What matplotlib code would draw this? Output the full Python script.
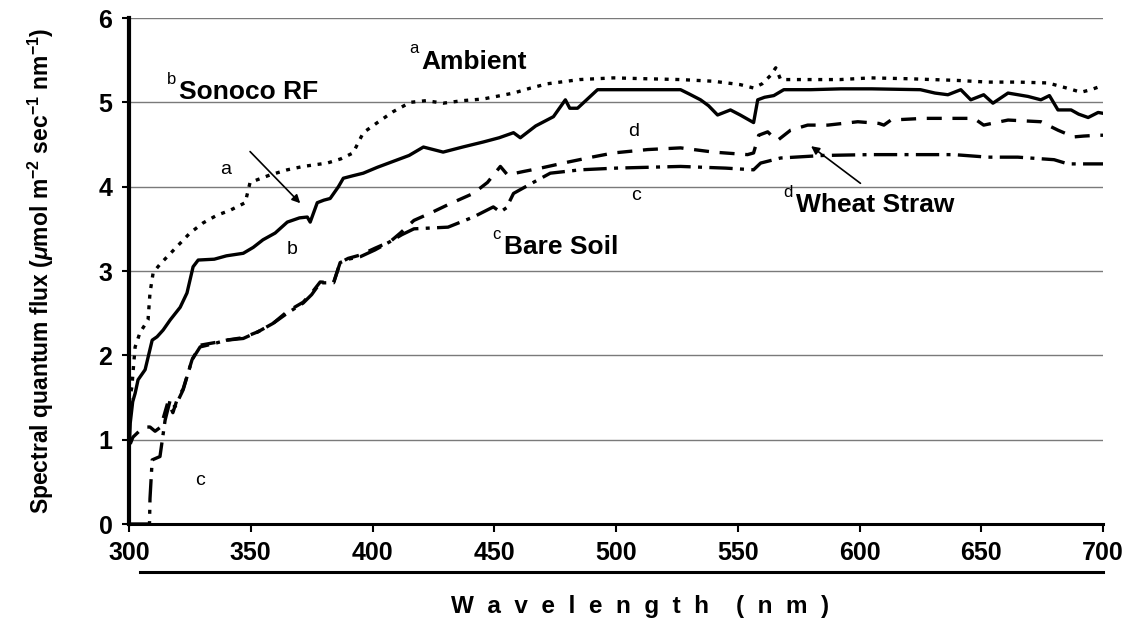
import matplotlib
matplotlib.use('Agg')
import matplotlib.pyplot as plt
from matplotlib import font_manager
from matplotlib.lines import Line2D

names = {f.name for f in font_manager.fontManager.ttflist}
narrow = 'Liberation Sans Narrow' if 'Liberation Sans Narrow' in names else 'Liberation Sans'

plt.rcParams['font.family'] = ['Liberation Sans', 'DejaVu Sans']
plt.rcParams['mathtext.fontset'] = 'custom'
plt.rcParams['mathtext.rm'] = 'Liberation Sans:bold'
plt.rcParams['mathtext.it'] = 'Liberation Sans:bold:italic'
plt.rcParams['mathtext.default'] = 'rm'

# a - Ambient (dotted)
wl_a = [300, 301.2, 301.6, 302.5, 304.5, 307.8, 308.6, 309.9, 312.7, 319.7, 325, 330.4, 336, 341.5,
        347.7, 349.7, 358, 365, 371.5, 381.4, 387, 392, 396.2, 402, 408.5, 415.5, 422, 429, 437,
        445.5, 457.9, 465, 471.8, 485, 499, 512, 526.5, 540, 551, 556.5, 560, 563.5, 565.6, 567.6,
        580, 592, 604.6, 620, 640, 652.7, 665, 677.4, 685, 691, 695, 698, 700]
flux_a = [1.45, 1.63, 1.79, 2.1, 2.27, 2.42, 2.74, 2.98, 3.08, 3.29, 3.45, 3.57, 3.66, 3.72,
          3.81, 4.05, 4.14, 4.2, 4.24, 4.28, 4.33, 4.40, 4.64, 4.76, 4.89, 5.0, 5.02, 4.99, 5.02,
          5.04, 5.11, 5.17, 5.22, 5.27, 5.29, 5.28, 5.27, 5.25, 5.21, 5.17, 5.22, 5.32, 5.41, 5.27,
          5.27, 5.27, 5.29, 5.28, 5.26, 5.24, 5.24, 5.23, 5.17, 5.12, 5.15, 5.18, 5.2]

# b - Sonoco RF (solid)
wl_b = [300, 300.5, 301.5, 302.5, 303.7, 306.6, 309.5, 311.5, 314, 316.9, 321, 323.8, 326.3, 328.4,
        335, 340, 346.9, 351, 355, 360, 365, 370, 373.2, 374.4, 377.3, 380, 382.6, 386, 388, 392,
        396.2, 402, 408.5, 415, 420.9, 429, 437, 445.5, 452, 457.9, 460.7, 467, 474.3, 479.2, 481,
        484.2, 492.4, 510, 526.5, 530, 534.7, 538, 541.7, 547, 551, 556.5, 558.2, 561, 564.8, 568.9,
        580, 592.3, 605, 625, 631, 636.3, 641.6, 645.7, 651, 654.8, 661, 669.2, 674.5, 678, 681.5,
        686.9, 690, 693.9, 698, 700]
flux_b = [0.84, 1.2, 1.45, 1.55, 1.71, 1.83, 2.18, 2.22, 2.3, 2.42, 2.57, 2.74, 3.05, 3.13,
          3.14, 3.18, 3.21, 3.28, 3.37, 3.45, 3.58, 3.63, 3.64, 3.58, 3.81, 3.84, 3.86, 4.0, 4.1, 4.13,
          4.16, 4.23, 4.30, 4.37, 4.47, 4.41, 4.47, 4.53, 4.58, 4.64, 4.58, 4.72, 4.83, 5.03, 4.93,
          4.93, 5.15, 5.15, 5.15, 5.1, 5.03, 4.96, 4.85, 4.91, 4.85, 4.76, 5.03, 5.06, 5.08, 5.15,
          5.15, 5.16, 5.16, 5.15, 5.11, 5.09, 5.15, 5.03, 5.09, 4.99, 5.11, 5.07, 5.03, 5.08, 4.91,
          4.91, 4.86, 4.82, 4.88, 4.87]

# c - Bare Soil (dash-dot)
wl_c = [300, 308.4, 308.6, 309.5, 312.7, 314.8, 316.9, 318.9, 322.2, 325.9, 329.2, 335, 340, 346.9,
        353, 359.2, 365, 371.5, 375, 378.5, 384, 386.7, 390, 395, 401, 407.3, 412, 417, 424, 431,
        441.4, 449.6, 452.5, 455, 457.9, 466, 473, 485.4, 500, 526.5, 545, 556.5, 559.4, 567.6, 585,
        604, 620, 638.8, 652.7, 665, 679.9, 685.6, 696.3, 700]
flux_c = [0, 0, 0.3, 0.76, 0.8, 1.23, 1.47, 1.39, 1.59, 1.95, 2.1, 2.14, 2.18, 2.2,
          2.28, 2.38, 2.5, 2.62, 2.72, 2.86, 2.86, 3.1, 3.14, 3.17, 3.25, 3.35, 3.43, 3.50, 3.51, 3.52,
          3.64, 3.76, 3.70, 3.75, 3.92, 4.05, 4.16, 4.2, 4.22, 4.24, 4.22, 4.2, 4.28, 4.34, 4.37,
          4.38, 4.38, 4.38, 4.35, 4.35, 4.32, 4.27, 4.27, 4.27]

# d - Wheat Straw (dashed)
wl_d = [300.5, 301.6, 304.5, 306, 308.6, 310.7, 313, 316, 318, 320, 322.2, 325.9, 329.2, 335, 340,
        346.9, 353, 359.2, 365, 371.5, 375, 378.5, 384, 386.7, 390, 395, 401, 407.3, 411.4, 417, 424,
        432, 441.4, 447.2, 452.5, 455.4, 462, 469, 480, 490, 499, 513, 526.5, 540, 554, 556.5, 558.6,
        562.3, 564.8, 566.4, 571.7, 578.7, 587, 599.3, 608, 610, 612.9, 626.4, 647, 651, 661, 674.5,
        681.5, 688, 692, 698, 700]
flux_d = [0.95, 1.03, 1.11, 1.15, 1.15, 1.10, 1.15, 1.45, 1.32, 1.5, 1.6, 1.95, 2.12, 2.15, 2.18,
          2.21, 2.28, 2.38, 2.52, 2.63, 2.74, 2.87, 2.86, 3.1, 3.15, 3.19, 3.27, 3.35, 3.45, 3.60, 3.69,
          3.8, 3.92, 4.05, 4.24, 4.14, 4.18, 4.22, 4.29, 4.35, 4.4, 4.44, 4.46, 4.41, 4.38, 4.4, 4.61,
          4.65, 4.58, 4.55, 4.67, 4.73, 4.73, 4.77, 4.75, 4.73, 4.79, 4.81, 4.81, 4.73, 4.79, 4.77,
          4.67, 4.59, 4.6, 4.61, 4.61]

x_ticks = [300, 350, 400, 450, 500, 550, 600, 650, 700]
y_ticks = [0, 1, 2, 3, 4, 5, 6]

fig = plt.figure(figsize=(11.35, 6.23), dpi=100)
ax = fig.add_axes([0.1137, 0.1589, 0.8581, 0.8122])

lw = 2.4
ax.plot(wl_a, flux_a, color='black', lw=lw, linestyle=(0, (1.2, 2.0)), solid_capstyle='butt')
ax.plot(wl_b, flux_b, color='black', lw=lw, solid_joinstyle='round')
ax.plot(wl_c, flux_c, color='black', lw=lw, linestyle=(0, (7, 2.2, 1.2, 2.2)))
ax.plot(wl_d, flux_d, color='black', lw=lw, linestyle=(0, (4.5, 3.2)))

ax.set_xlim(300, 700)
ax.set_ylim(0, 6)
ax.set_xticks(x_ticks)
ax.set_yticks(y_ticks)
ax.yaxis.grid(True, color='#7a7a7a', lw=1.0)
ax.set_axisbelow(True)
for s in ['top', 'right']:
    ax.spines[s].set_visible(False)
ax.spines['left'].set_linewidth(3)
ax.spines['bottom'].set_linewidth(2.2)
ax.tick_params(axis='x', direction='out', length=6, width=1.5, pad=6)
ax.tick_params(axis='y', direction='out', length=5, width=1.5, pad=7)
for lab in ax.get_xticklabels() + ax.get_yticklabels():
    lab.set_fontfamily(narrow)
    lab.set_fontweight('bold')
    lab.set_fontsize(18)

ax.set_ylabel(r'Spectral quantum flux ($\mathit{\mu}$mol m$^{-2}$ sec$^{-1}$ nm$^{-1}$)',
              fontsize=16.5, fontweight='bold')
ax.yaxis.set_label_coords(-0.075, 0.5)

fig.text(0.564, 0.026, 'W  a  v  e  l  e  n  g  t  h    (  n  m  )', fontsize=17.5,
         fontweight='bold', fontfamily=narrow, ha='center', va='center')

# line under the tick labels
fig.add_artist(Line2D([140 / 1135, 1103 / 1135], [1 - 572 / 623] * 2, color='black', lw=2.2))

# labels
big = dict(fontsize=19, fontweight='bold', va='baseline')
sup = dict(fontsize=12, va='baseline')
small = dict(fontsize=14, ha='center', va='center')
ax.text(415, 5.58, 'a', **sup)
ax.text(420, 5.40, 'Ambient', **big)
ax.text(315.5, 5.22, 'b', **sup)
ax.text(320.5, 5.04, 'Sonoco RF', **big)
ax.text(449, 3.38, 'c', **sup)
ax.text(454, 3.20, 'Bare Soil', **big)
ax.text(568.5, 3.88, 'd', **sup)
ax.text(574, 3.70, 'Wheat Straw', **big)
ax.text(339.5, 4.2, 'a', **small)
ax.text(367, 3.25, 'b', **small)
ax.text(329.2, 0.52, 'c', **small)
ax.text(507.2, 4.65, 'd', **small)
ax.text(508.4, 3.9, 'c', **small)

ax.annotate('', xy=(371.1, 3.78), xytext=(348.9, 4.44),
            arrowprops=dict(arrowstyle='-|>', color='black', lw=1.2, mutation_scale=12))
ax.annotate('', xy=(579.2, 4.5), xytext=(601.3, 4.02),
            arrowprops=dict(arrowstyle='-|>', color='black', lw=1.2, mutation_scale=12))

plt.savefig('out.png', dpi=100)
